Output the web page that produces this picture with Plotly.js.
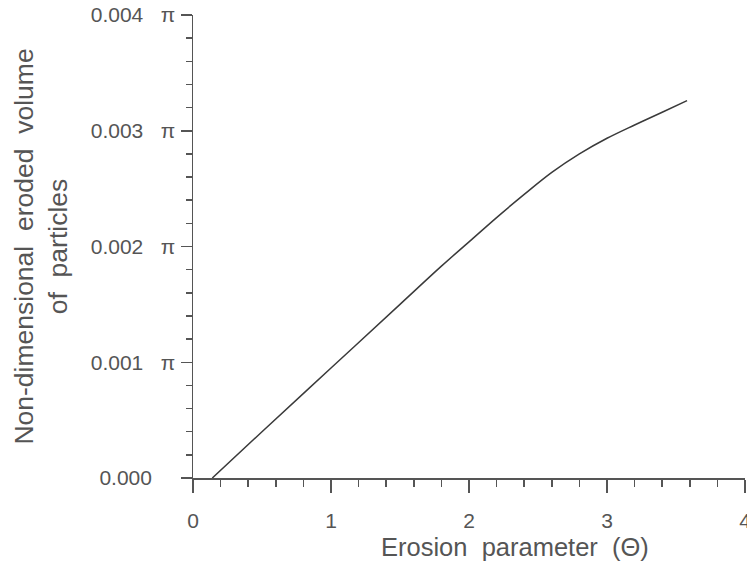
<!DOCTYPE html>
<html>
<head>
<meta charset="utf-8">
<script src="https://cdn.plot.ly/plotly-3.0.1.min.js"></script>
<style>html,body{margin:0;padding:0;background:#fff;}#chart{width:747px;height:565px;}</style>
</head>
<body>
<div id="chart"></div>
<script>
// Erosion parameter (Theta)
var theta = [0.14, 0.5, 1.0, 1.5, 1.8, 2.0, 2.2, 2.4, 2.6, 2.8, 3.0, 3.2, 3.4, 3.58];
// Non-dimensional eroded volume (in units of pi)
var volume = [0, 0.00040, 0.00095, 0.00150, 0.00183, 0.00204, 0.00225, 0.00245, 0.00264, 0.00280, 0.002935, 0.00305, 0.00316, 0.00326];

var yTickVals = [0, 0.001, 0.002, 0.003, 0.004];
var yTickText = ['0.000\u00a0\u00a0\u00a0\u00a0', '0.001\u00a0\u00a0\u00a0\u03c0', '0.002\u00a0\u00a0\u00a0\u03c0', '0.003\u00a0\u00a0\u00a0\u03c0', '0.004\u00a0\u00a0\u00a0\u03c0'];
var xTickVals = [0, 1, 2, 3, 4];
var xTickText = ['0', '1', '2', '3', '4'];

var font = 'Liberation Sans, Arial, Helvetica, sans-serif';
var grey = '#555555';

var trace = {
  x: theta, y: volume, type: 'scatter', mode: 'lines',
  line: {color: '#3a3a3a', width: 1.5, shape: 'spline', smoothing: 1},
  hoverinfo: 'skip'
};

var layout = {
  width: 747, height: 565,
  margin: {l: 193, r: 2, t: 15, b: 87},
  paper_bgcolor: '#ffffff', plot_bgcolor: '#ffffff',
  showlegend: false,
  font: {family: font, color: grey},
  xaxis: {
    range: [0, 4], showgrid: false, zeroline: false,
    showline: true, linecolor: grey, linewidth: 1.5,
    tickmode: 'array', tickvals: xTickVals, ticktext: xTickText,
    ticks: 'outside', ticklen: 13, tickwidth: 1.5, tickcolor: grey,
    ticklabelstandoff: 10, ticklabeloverflow: 'allow',
    tickfont: {family: font, size: 21, color: grey},
    minor: {tickmode: 'linear', tick0: 0, dtick: 0.2, ticks: 'outside', ticklen: 7, tickwidth: 1.5, tickcolor: grey, showgrid: false}
  },
  yaxis: {
    range: [0, 0.004], showgrid: false, zeroline: false,
    showline: true, linecolor: grey, linewidth: 1.5,
    tickmode: 'array', tickvals: yTickVals, ticktext: yTickText,
    ticks: 'outside', ticklen: 11, tickwidth: 1.5, tickcolor: grey,
    ticklabelstandoff: 1, ticklabeloverflow: 'allow',
    tickfont: {family: font, size: 21, color: grey},
    minor: {tickmode: 'linear', tick0: 0, dtick: 0.0002, ticks: 'outside', ticklen: 6, tickwidth: 1.5, tickcolor: grey, showgrid: false},
    title: {text: 'Non-dimensional\u00a0\u00a0eroded\u00a0\u00a0volume<br>of\u00a0\u00a0particles', font: {family: font, size: 26.5, color: grey}, standoff: 15}
  },
  annotations: [{
    text: 'Erosion\u00a0\u00a0parameter\u00a0\u00a0(\u0398)',
    xref: 'paper', yref: 'paper', x: 0.583, y: -0.15,
    xanchor: 'center', yanchor: 'middle', showarrow: false,
    font: {family: font, size: 25.5, color: grey}
  }]
};

Plotly.newPlot('chart', [trace], layout, {displayModeBar: false, staticPlot: true});
</script>
</body>
</html>
